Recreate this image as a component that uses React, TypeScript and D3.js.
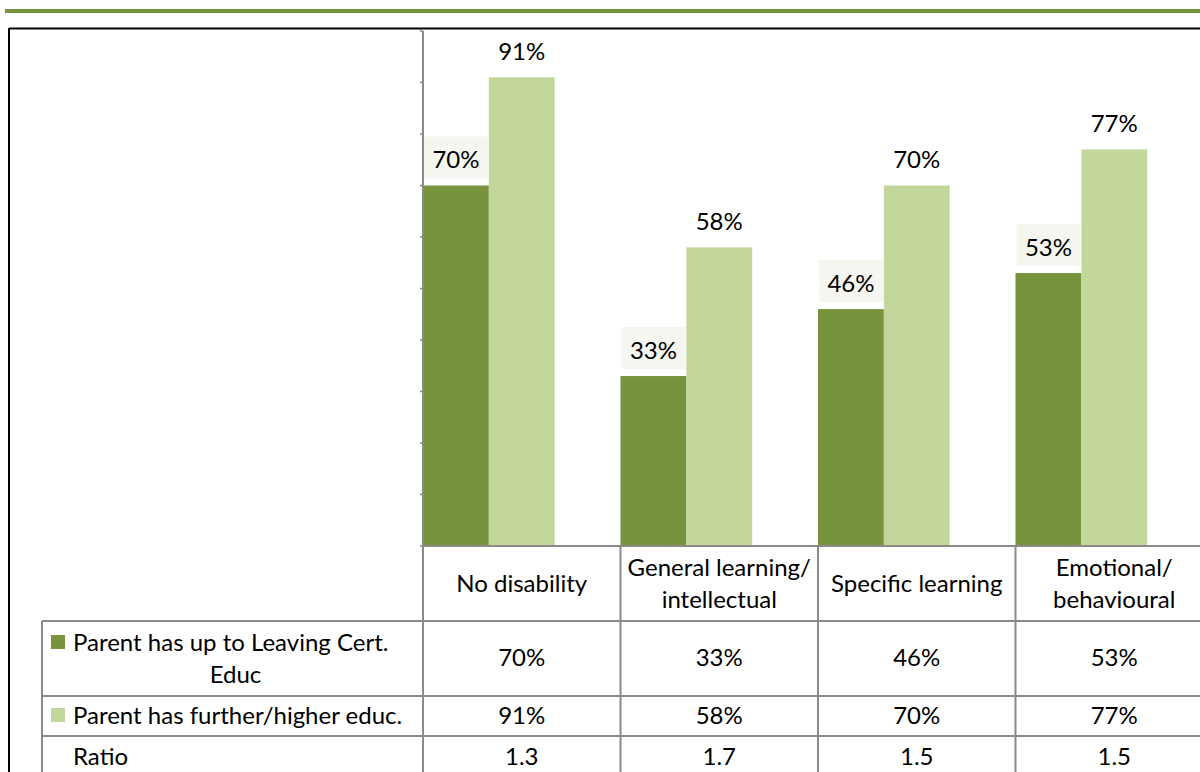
import React from 'react';
import * as d3 from 'd3';

// chart data
const categories = ['No disability', 'General learning/\nintellectual', 'Specific learning', 'Emotional/\nbehavioural'];
const seriesNames = ['Parent has up to Leaving Cert.\nEduc', 'Parent has further/higher educ.'];
const leavingCert = [0.70, 0.33, 0.46, 0.53];
const higherEduc = [0.91, 0.58, 0.70, 0.77];
const ratio = ['1.3', '1.7', '1.5', '1.5'];
const yTicks = [0, 0.1, 0.2, 0.3, 0.4, 0.5, 0.6, 0.7, 0.8, 0.9, 1.0];

const colors = ['#77933c', '#c3d69b'];
const gridColor = '#8a8a8a';
const font = 'Lato, "Open Sans", sans-serif';
const fontSize = 24;

const App = () => {
  const width = 1200;
  const height = 772;

  // plot area
  const axisX = 423;
  const bandW = 197.5;
  const baseY = 546;
  const topY = 31;

  // table rows
  const rowTops = [546, 621, 696, 736, 777];
  const tableLeft = 42;
  const dy = -2; // small nudge for table text

  const x = d3.scaleBand<string>()
    .domain(categories)
    .range([axisX, axisX + bandW * categories.length])
    .paddingInner(0)
    .paddingOuter(0);

  const xInner = d3.scaleBand<number>()
    .domain([0, 1])
    .range([0, (x.bandwidth() * 2) / 3]);

  const y = d3.scaleLinear().domain([0, 1]).range([baseY, topY]);

  const series = [leavingCert, higherEduc];
  const fmt = d3.format('.0%');

  const lines = (s: string) => s.split('\n');

  return (
    <svg
      width={width}
      height={height}
      style={{ position: 'absolute', left: 0, top: 0, display: 'block', background: '#fff' }}
      fontFamily={font}
      fontSize={fontSize}
    >
      {/* top rule and outer frame */}
      <rect x={5} y={9} width={width} height={4} fill="#77933c" />
      <line x1={9} x2={width + 10} y1={28.5} y2={28.5} stroke="#000" strokeWidth={2} />
      <line x1={9} x2={9} y1={28} y2={height + 10} stroke="#000" strokeWidth={2} />

      {/* bars */}
      {series.map((vals, si) =>
        vals.map((v, ci) => (
          <rect
            key={`b${si}-${ci}`}
            x={(x(categories[ci]) as number) + (xInner(si) as number)}
            y={y(v)}
            width={xInner.bandwidth()}
            height={baseY - y(v)}
            fill={colors[si]}
          />
        ))
      )}

      {/* value labels */}
      {series.map((vals, si) =>
        vals.map((v, ci) => {
          const bx = (x(categories[ci]) as number) + (xInner(si) as number);
          const cx = bx + xInner.bandwidth() / 2;
          return (
            <g key={`l${si}-${ci}`}>
              {si === 0 && (
                <rect
                  x={bx + 1}
                  y={y(v) - 49}
                  width={xInner.bandwidth() - 2}
                  height={42}
                  fill="#f5f6f0"
                />
              )}
              <text x={cx} y={y(v) - 27} textAnchor="middle" dominantBaseline="central" fill="#000">
                {fmt(v)}
              </text>
            </g>
          );
        })
      )}

      {/* y axis */}
      <line x1={axisX} x2={axisX} y1={topY} y2={height + 10} stroke={gridColor} strokeWidth={2} />
      {yTicks.map((t) => (
        <line key={`t${t}`} x1={axisX - 3} x2={axisX} y1={y(t)} y2={y(t)} stroke={gridColor} strokeWidth={1.5} />
      ))}

      {/* data table grid */}
      <line x1={axisX} x2={width + 10} y1={rowTops[0]} y2={rowTops[0]} stroke={gridColor} strokeWidth={2} />
      {rowTops.slice(1, 4).map((r) => (
        <line key={`r${r}`} x1={tableLeft} x2={width + 10} y1={r} y2={r} stroke={gridColor} strokeWidth={2} />
      ))}
      <line x1={tableLeft} x2={tableLeft} y1={rowTops[1]} y2={height + 10} stroke={gridColor} strokeWidth={2} />
      {categories.map((c) => (
        <line
          key={`v${c}`}
          x1={(x(c) as number) + x.bandwidth()}
          x2={(x(c) as number) + x.bandwidth()}
          y1={rowTops[0]}
          y2={height + 10}
          stroke={gridColor}
          strokeWidth={2}
        />
      ))}

      {/* category header row */}
      {categories.map((c) => {
        const ls = lines(c);
        const cx = (x(c) as number) + x.bandwidth() / 2;
        const mid = (rowTops[0] + rowTops[1]) / 2 + dy;
        return (
          <text key={`c${c}`} x={cx} textAnchor="middle" dominantBaseline="central" fill="#000">
            {ls.map((l, i) => (
              <tspan key={i} x={cx} y={mid + (i - (ls.length - 1) / 2) * 32}>
                {l}
              </tspan>
            ))}
          </text>
        );
      })}

      {/* series rows */}
      {series.map((vals, si) => {
        const top = rowTops[si + 1];
        const bottom = rowTops[si + 2];
        const mid = (top + bottom) / 2 + dy;
        const ls = lines(seriesNames[si]);
        const firstY = si === 0 ? top + 20 : mid;
        return (
          <g key={`row${si}`}>
            <rect x={51} y={firstY - 6} width={14} height={14} fill={colors[si]} />
            {ls.map((l, i) => (
              <text
                key={i}
                x={i === 0 ? 73 : (tableLeft + axisX) / 2 + 3}
                y={firstY + i * 32}
                textAnchor={i === 0 ? 'start' : 'middle'}
                dominantBaseline="central"
                fill="#000"
              >
                {l}
              </text>
            ))}
            {vals.map((v, ci) => (
              <text
                key={`v${ci}`}
                x={(x(categories[ci]) as number) + x.bandwidth() / 2}
                y={mid}
                textAnchor="middle"
                dominantBaseline="central"
                fill="#000"
              >
                {fmt(v)}
              </text>
            ))}
          </g>
        );
      })}

      {/* ratio row */}
      <text x={73} y={757 + dy} dominantBaseline="central" fill="#000">
        Ratio
      </text>
      {ratio.map((r, ci) => (
        <text
          key={`ratio${ci}`}
          x={(x(categories[ci]) as number) + x.bandwidth() / 2}
          y={757 + dy}
          textAnchor="middle"
          dominantBaseline="central"
          fill="#000"
        >
          {r}
        </text>
      ))}
    </svg>
  );
};

export default App;
